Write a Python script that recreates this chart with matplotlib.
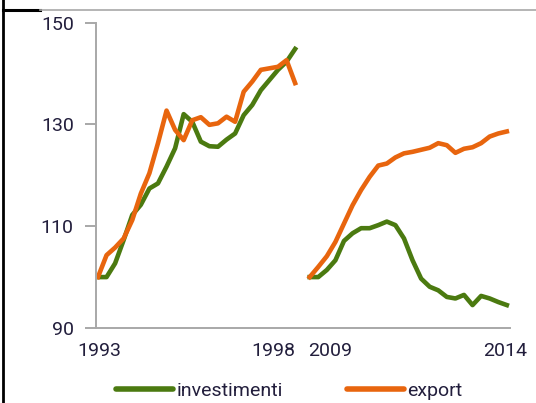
import numpy as np
import matplotlib
matplotlib.use("Agg")
import matplotlib.pyplot as plt
from matplotlib.lines import Line2D

# quarterly index, first quarter = 100
inv_9398 = [100, 100, 102.7, 107.3, 112.2, 114.2, 117.4, 118.4, 121.7, 125.3,
            132.0, 130.5, 126.6, 125.7, 125.6, 127.0, 128.2, 131.8, 133.8,
            136.7, 138.7, 140.7, 142.3, 144.8]
exp_9398 = [100, 104.3, 105.8, 107.6, 111.2, 116.4, 120.4, 126.3, 132.7, 128.9,
            126.9, 130.8, 131.4, 129.9, 130.2, 131.5, 130.5, 136.4, 138.4,
            140.7, 141.0, 141.3, 142.6, 138.1]
inv_0914 = [100, 100, 101.4, 103.3, 107.1, 108.6, 109.6, 109.6, 110.2, 110.9,
            110.2, 107.6, 103.3, 99.7, 98.1, 97.4, 96.1, 95.8, 96.5, 94.5,
            96.3, 95.8, 95.1, 94.5]
exp_0914 = [100, 102.0, 104.1, 106.9, 110.5, 114.1, 117.1, 119.7, 121.9, 122.3,
            123.5, 124.3, 124.6, 125.0, 125.4, 126.3, 125.9, 124.4, 125.2,
            125.5, 126.3, 127.6, 128.2, 128.6]

yticks = [90, 110, 130, 150]
xlabels = ["1993", "1998", "2009", "2014"]

GREEN = "#4b7a10"
ORANGE = "#e8650e"
TXT = "#221e3c"

fig = plt.figure(figsize=(5.36, 4.03), dpi=100)
ax = fig.add_axes([96 / 536, 1 - 328 / 403, (510 - 96) / 536, (328 - 22.5) / 403])

x1 = np.arange(len(inv_9398))
x2 = np.arange(len(inv_0914)) + 24.7

ax.plot(x1, inv_9398, color=GREEN, lw=3.3, solid_joinstyle="round")
ax.plot(x1, exp_9398, color=ORANGE, lw=3.3, solid_joinstyle="round")
ax.plot(x2, inv_0914, color=GREEN, lw=3.3, solid_joinstyle="round")
ax.plot(x2, exp_0914, color=ORANGE, lw=3.3, solid_joinstyle="round")

ax.set_xlim(-0.23, 48.07)
ax.set_ylim(90, 150)

ax.spines["top"].set_visible(False)
ax.spines["right"].set_visible(False)
for s in ["left", "bottom"]:
    ax.spines[s].set_color("#a8a8a8")
    ax.spines[s].set_linewidth(1.4)

font = ["Roboto", "DejaVu Sans"]
ax.set_yticks(yticks)
ax.set_yticklabels([str(v) for v in yticks], fontsize=14, color=TXT, family=font)
ax.tick_params(axis="y", length=8, width=1.4, color="#a8a8a8", pad=8)

ax.set_xticks([0.2, 20.4, 27.1, 47.5])
ax.set_xticklabels(xlabels, fontsize=14, color=TXT, family=font)
ax.tick_params(axis="x", length=0, pad=10)

handles = [Line2D([], [], color=GREEN, lw=4, solid_capstyle="round"),
           Line2D([], [], color=ORANGE, lw=4, solid_capstyle="round")]
fig.legend(handles, ["investimenti", "export"], loc="center", bbox_to_anchor=(0.54, 1 - 391 / 403),
           ncol=2, frameon=False, handlelength=2.9, handletextpad=0.2, columnspacing=3.3,
           prop={"family": font, "size": 14}, labelcolor=TXT)

# frame remnants at top and left
fig.add_artist(Line2D([3 / 536, 3 / 536], [0, 1], color="black", lw=2))
fig.add_artist(Line2D([3 / 536, 40 / 536], [1 - 10 / 403] * 2, color="black", lw=2.2))
fig.add_artist(Line2D([40 / 536, 1], [1 - 10 / 403] * 2, color="#a8a8a8", lw=1.2))

fig.savefig("out.png", dpi=100)
